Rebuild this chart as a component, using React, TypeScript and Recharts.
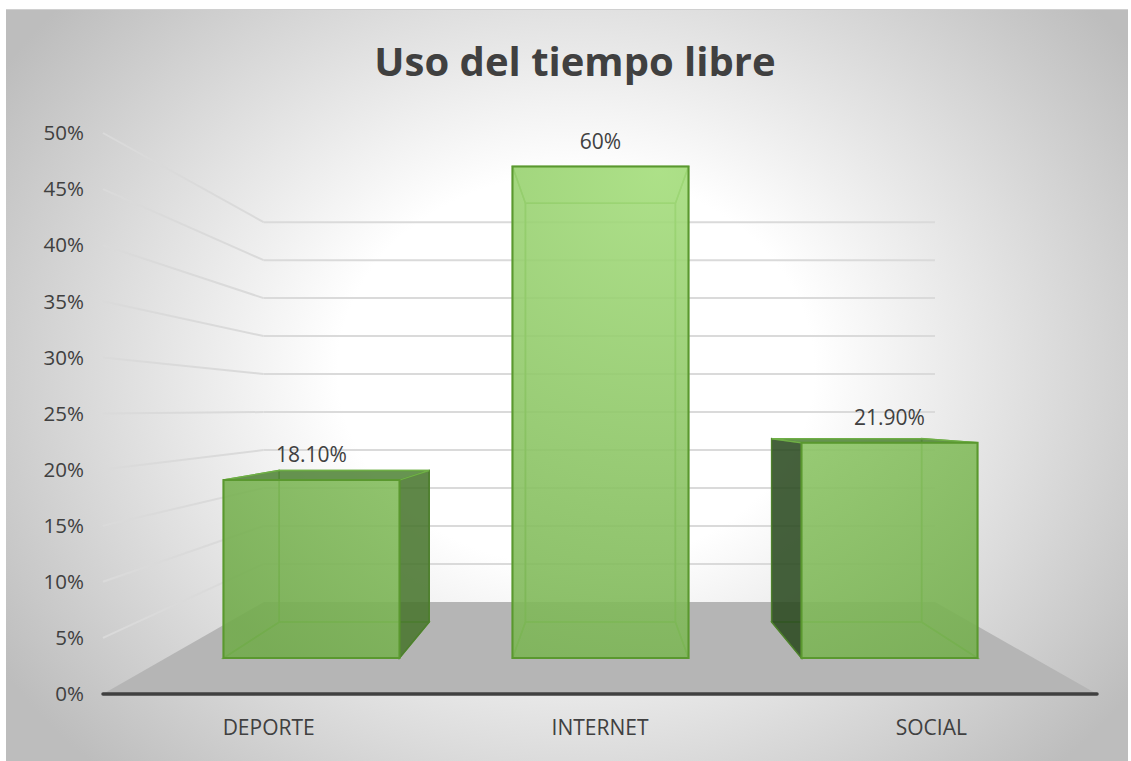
import React from 'react';
import { BarChart, Bar, XAxis, YAxis, LabelList, CartesianGrid } from 'recharts';

const categories = ['DEPORTE', 'INTERNET', 'SOCIAL'];
const values = [18.1, 60, 21.9];
const valueLabels = ['18.10%', '60%', '21.90%'];
const percentTicks = [0, 5, 10, 15, 20, 25, 30, 35, 40, 45, 50];

const AXIS_MAX = 50;
const chartData = categories.map((name, i) => ({
  name,
  // the axis stops at 50%, so the tall bar gets cut off there like in the original
  shown: Math.min(values[i], AXIS_MAX),
  label: valueLabels[i],
}));

const FONT = '"Open Sans", sans-serif';
const TEXT = '#404040';

// perspective helpers: pull a front plane point toward the vanishing point
const VX = 600;
const barBack = (x: number, y: number) => [VX + 0.852 * (x - VX), 415 + 0.852 * (y - 415)];
const wallBack = (x: number, y: number) => [VX + 0.677 * (x - VX), 409 + 0.677 * (y - 409)];

const pts = (list: number[][]) => list.map(p => p.join(',')).join(' ');

const Box = (props: any) => {
  const { x, y, width, height } = props;
  const bottom = y + height;
  const right = x + width;
  const fl = [x, bottom], fr = [right, bottom], tl = [x, y], tr = [right, y];
  const bl = barBack(x, bottom), br = barBack(right, bottom), btl = barBack(x, y), btr = barBack(right, y);

  const inner = 'rgba(130,190,90,0.18)';
  const edge = '#6FAE47';
  const leftOuter = btl[0] < x;
  const rightOuter = btr[0] > right;
  const topOuter = btl[1] < y;

  return (
    <g>
      <polygon points={pts([btl, btr, br, bl])} fill={inner} stroke={edge} strokeWidth={1.5} />
      <polygon points={pts([fl, fr, br, bl])} fill={inner} stroke={edge} strokeWidth={1.5} />
      <polygon
        points={pts([tl, btl, bl, fl])}
        fill={leftOuter ? 'rgba(40,70,30,0.85)' : inner}
        stroke={leftOuter ? '#4E7F2E' : edge}
        strokeWidth={1.5}
      />
      <polygon
        points={pts([tr, btr, br, fr])}
        fill={rightOuter ? 'rgba(70,115,45,0.85)' : inner}
        stroke={rightOuter ? '#4E7F2E' : edge}
        strokeWidth={1.5}
      />
      <polygon
        points={pts([tl, tr, btr, btl])}
        fill={topOuter ? 'rgba(80,130,55,0.85)' : 'rgba(170,225,130,0.35)'}
        stroke={edge}
        strokeWidth={1.5}
      />
      <polygon points={pts([tl, tr, fr, fl])} fill="url(#frontGlow)" fillOpacity={0.88} stroke="#5A982F" strokeWidth={2} />
    </g>
  );
};

// one grid line: slanted along the side wall, then flat along the back wall
const WallLine = (props: any) => {
  const { x1, y1 } = props;
  // the 0% line is the axis itself
  if (y1 > 690) return null;
  const [bx, by] = wallBack(x1, y1);
  return (
    <g>
      <line x1={x1} y1={y1} x2={bx} y2={by} stroke="#DADADA" strokeWidth={2} />
      <line x1={bx} y1={by} x2={935} y2={by} stroke="#DADADA" strokeWidth={2} />
    </g>
  );
};

export default function App() {
  return (
    <div
      style={{
        position: 'absolute',
        left: 0,
        top: 0,
        width: 1131,
        height: 761,
        background: '#fff',
      }}
    >
      <div
        style={{
          position: 'absolute',
          left: 6,
          top: 9,
          right: 3,
          bottom: 0,
          boxSizing: 'border-box',
          borderTop: '1px solid #D0D0D0',
          background: 'radial-gradient(ellipse 680px 560px at 570px 360px, #FFFFFF 35%, #BDBDBD 100%)',
        }}
      />
      <BarChart
        width={1131}
        height={761}
        data={chartData}
        margin={{ top: 133, right: 34, bottom: 0, left: 0 }}
        style={{ position: 'absolute', left: 0, top: 0 }}
      >
        <defs>
          <radialGradient id="frontGlow" gradientUnits="userSpaceOnUse" cx={660} cy={170} r={620}>
            <stop offset="0%" stopColor="#A6DE7E" />
            <stop offset="100%" stopColor="#72AB4C" />
          </radialGradient>
        </defs>
        <text x={575} y={76} textAnchor="middle" fontFamily={FONT} fontWeight={700} fontSize={40} fill={TEXT}>
          Uso del tiempo libre
        </text>
        <polygon points="103,694 264,602 935,602 1097,694" fill="#B5B5B5" />
        <CartesianGrid xAxisId="labels" yAxisId="wall" vertical={false} horizontal={<WallLine />} syncWithTicks />
        <YAxis
          yAxisId="wall"
          width={103}
          domain={[0, AXIS_MAX]}
          ticks={percentTicks}
          interval={0}
          axisLine={false}
          tickLine={false}
          tickMargin={13}
          tickFormatter={(v: number) => `${v}%`}
          tick={{ fontFamily: FONT, fontSize: 20.5, fill: TEXT }}
        />
        <YAxis yAxisId="front" hide width={0} domain={[-3.66, 53.41]} allowDataOverflow />
        <XAxis
          xAxisId="labels"
          dataKey="name"
          height={67}
          axisLine={{ stroke: TEXT, strokeWidth: 3.5, strokeLinecap: 'round' }}
          tickLine={false}
          tickMargin={20}
          tick={{ fontFamily: FONT, fontSize: 21, fill: TEXT }}
        />
        <XAxis xAxisId="front" dataKey="name" hide height={0} padding={{ left: 63.5, right: 63.5 }} />
        {/* empty series so the wall and label axes get their ticks */}
        <Bar xAxisId="labels" yAxisId="wall" dataKey="shown" fill="none" legendType="none" isAnimationActive={false} />
        <Bar
          xAxisId="front"
          yAxisId="front"
          dataKey="shown"
          barSize={176}
          shape={<Box />}
          isAnimationActive={false}
        >
          <LabelList
            dataKey="label"
            position="top"
            offset={18}
            style={{ fontFamily: FONT, fontSize: 21, fill: TEXT }}
          />
        </Bar>
      </BarChart>
    </div>
  );
}
